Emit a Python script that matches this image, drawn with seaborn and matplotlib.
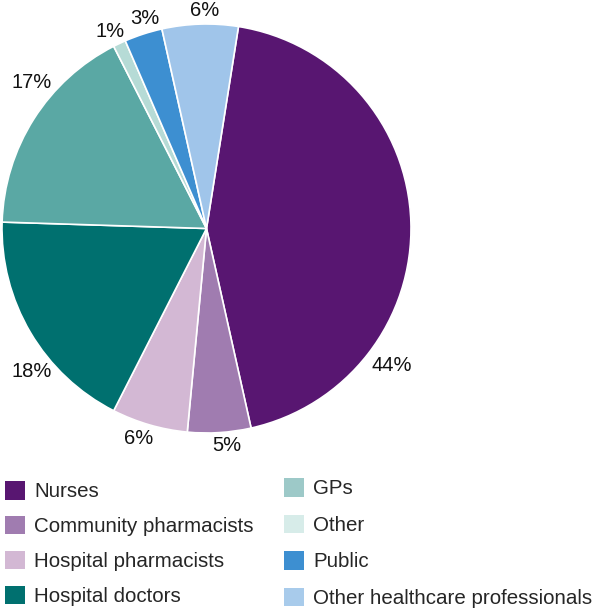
import matplotlib
matplotlib.use("Agg")
import matplotlib.pyplot as plt
import matplotlib.patches as mpatches
import seaborn as sns

sns.set_theme(style="white")
plt.rcParams["font.family"] = ["Liberation Sans", "DejaVu Sans"]

# data (clockwise from top)
groups = ["Nurses", "Community pharmacists", "Hospital pharmacists", "Hospital doctors",
          "GPs", "Other", "Public", "Other healthcare professionals"]
shares = [44, 5, 6, 18, 17, 1, 3, 6]
pie_colors = ["#581671", "#a07cb0", "#d3b8d4", "#00706f",
              "#5aa8a4", "#b6dbd6", "#3d8fd1", "#a0c5ea"]
legend_colors = ["#581671", "#a07cb0", "#d3b8d4", "#00706f",
                 "#9dc9c8", "#d7ece9", "#3d8fd1", "#a8cbeb"]

# where the percentage labels sit (in pie radius units)
label_pos = [(0.907, -0.672), (0.100, -1.059), (-0.330, -1.027), (-0.853, -0.697),
             (-0.853, 0.716), (-0.472, 0.961), (-0.301, 1.029), (-0.007, 1.064)]

fig = plt.figure(figsize=(6, 6.15), dpi=100)
ax = fig.add_axes([2 / 600, 182 / 615, 409 / 600, 409 / 615])

wedges, texts = ax.pie(shares, colors=pie_colors, startangle=81, counterclock=False,
                       labels=[f"{s}%" for s in shares],
                       wedgeprops=dict(edgecolor="white", linewidth=1.2),
                       textprops=dict(fontsize=14.5, color="#111111"))
for t, (x, y) in zip(texts, label_pos):
    t.set_position((x, y))
    t.set_ha("center")
    t.set_va("center")
ax.set_xlim(-1, 1)
ax.set_ylim(-1, 1)
ax.set_aspect("equal")

# legend in two columns
handles = [mpatches.Patch(facecolor=c, edgecolor="none") for c in legend_colors]
kw = dict(frameon=False, fontsize=14.8, handlelength=0.95, handleheight=1.0,
          handletextpad=0.45, loc="upper left", borderaxespad=0)
leg1 = fig.legend(handles[:4], groups[:4], bbox_to_anchor=(-3 / 600, 1 - 473 / 615),
                  labelspacing=0.71, **kw)
leg2 = fig.legend(handles[4:], groups[4:], bbox_to_anchor=(276 / 600, 1 - 470 / 615),
                  labelspacing=0.79, **kw)

fig.savefig("out.png", dpi=100, facecolor="white")
